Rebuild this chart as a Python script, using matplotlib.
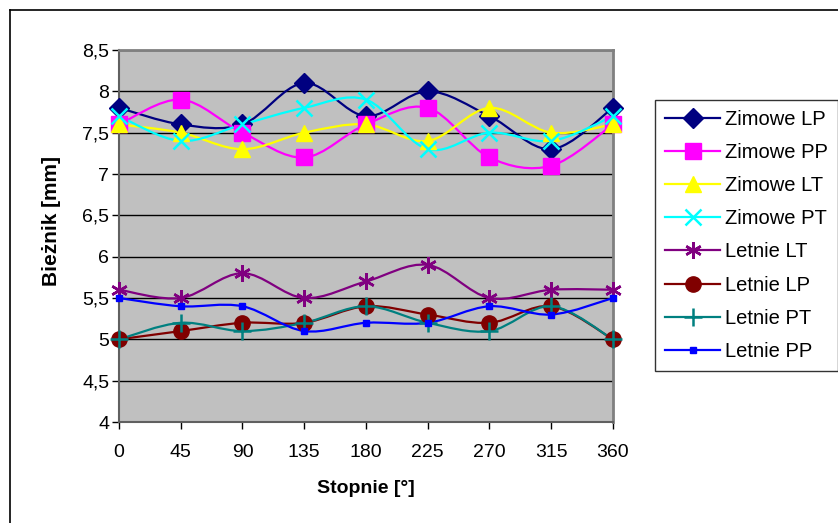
import numpy as np
import matplotlib
matplotlib.use('Agg')
from matplotlib import pyplot as plt
from matplotlib.path import Path
from matplotlib.patches import PathPatch
from matplotlib.lines import Line2D

plt.rcParams['font.family'] = ['Liberation Sans', 'DejaVu Sans']

stopnie = [0, 45, 90, 135, 180, 225, 270, 315, 360]

zimowe_lp = [7.8, 7.6, 7.6, 8.1, 7.7, 8.0, 7.7, 7.3, 7.8]
zimowe_pp = [7.6, 7.9, 7.5, 7.2, 7.6, 7.8, 7.2, 7.1, 7.6]
zimowe_lt = [7.6, 7.5, 7.3, 7.5, 7.6, 7.4, 7.8, 7.5, 7.6]
zimowe_pt = [7.7, 7.4, 7.6, 7.8, 7.9, 7.3, 7.5, 7.4, 7.7]
letnie_lt = [5.6, 5.5, 5.8, 5.5, 5.7, 5.9, 5.5, 5.6, 5.6]
letnie_lp = [5.0, 5.1, 5.2, 5.2, 5.4, 5.3, 5.2, 5.4, 5.0]
letnie_pt = [5.0, 5.2, 5.1, 5.2, 5.4, 5.2, 5.1, 5.4, 5.0]
letnie_pp = [5.5, 5.4, 5.4, 5.1, 5.2, 5.2, 5.4, 5.3, 5.5]

series = [
    ('Zimowe LP', zimowe_lp, '#000080', 'D', 10),
    ('Zimowe PP', zimowe_pp, '#FF00FF', 's', 11),
    ('Zimowe LT', zimowe_lt, '#FFFF00', '^', 11),
    ('Zimowe PT', zimowe_pt, '#00FFFF', 'x', 11),
    ('Letnie LT', letnie_lt, '#800080', '*', 12),
    ('Letnie LP', letnie_lp, '#800000', 'o', 11),
    ('Letnie PT', letnie_pt, '#008080', '+', 13),
    ('Letnie PP', letnie_pp, '#0000FF', 's', 4.5),
]


def smooth_path(x, y):
    # Excel-like smoothed line: cubic Bezier with Catmull-Rom control points
    p = np.column_stack([x, y]).astype(float)
    ext = np.vstack([p[0], p, p[-1]])
    verts = [p[0]]
    codes = [Path.MOVETO]
    for i in range(len(p) - 1):
        p0, p1, p2, p3 = ext[i], ext[i + 1], ext[i + 2], ext[i + 3]
        verts += [p1 + (p2 - p0) / 6, p2 - (p3 - p1) / 6, p2]
        codes += [Path.CURVE4] * 3
    return Path(verts, codes)


fig = plt.figure(figsize=(8.38, 5.23), dpi=100)
ax = fig.add_axes([0.142, 0.1931, 0.5895, 0.7113])
ax.set_facecolor('#C0C0C0')

handles = []
for label, vals, color, marker, ms in series:
    ax.add_patch(PathPatch(smooth_path(stopnie, vals), fill=False,
                           edgecolor=color, lw=1.6, zorder=3, clip_on=False))
    if marker == '*':
        mk = (6, 2, 0)  # asterisk like Excel
    else:
        mk = marker
    if marker in ('x', '+', '*'):
        style = dict(marker=mk, ms=ms, mec=color, mew=1.8)
    else:
        style = dict(marker=mk, ms=ms, mfc=color, mec=color)
    ax.plot(stopnie, vals, ls='none', zorder=4, clip_on=False, **style)
    handles.append((Line2D([], [], color=color, lw=1.6, **style), label))

ax.set_xlim(0, 360)
ax.set_ylim(4, 8.5)
ax.set_xticks(stopnie)
yt = np.arange(4, 8.51, 0.5)
ax.set_yticks(yt)
ax.set_yticklabels([f'{v:g}'.replace('.', ',') for v in yt])
ax.yaxis.grid(True, color='black', lw=1)
ax.set_axisbelow(True)
ax.tick_params(axis='both', direction='out', length=5, width=1, color='black',
               labelsize=14)
ax.tick_params(axis='x', pad=11)
ax.tick_params(axis='y', pad=2)
for s in ['top', 'right']:
    ax.spines[s].set_color('#808080')
    ax.spines[s].set_linewidth(2)
for s in ['left', 'bottom']:
    ax.spines[s].set_color('#606060')
    ax.spines[s].set_linewidth(1.5)

ax.set_xlabel('Stopnie [°]', fontsize=14, fontweight='bold', va='top')
ax.set_ylabel('Bieżnik [mm]', fontsize=15, fontweight='bold')
ax.xaxis.set_label_coords(0.5, -0.155)
ax.yaxis.set_label_coords(-0.118, 0.54)

leg = fig.legend([h for h, _ in handles], [l for _, l in handles],
                 loc='upper left', bbox_to_anchor=(655 / 838, 1 - 100 / 523),
                 frameon=True, fancybox=False, edgecolor='black', fontsize=14.5,
                 handlelength=2.75, handletextpad=0.25, labelspacing=0.7,
                 borderpad=0.5, borderaxespad=0)
leg.get_frame().set_linewidth(1)

# outer chart border (left and top edges visible)
fig.add_artist(Line2D([10 / 838, 10 / 838], [0, 1 - 10 / 523], color='black', lw=1.2,
                      transform=fig.transFigure))
fig.add_artist(Line2D([10 / 838, 1], [1 - 10 / 523, 1 - 10 / 523], color='black', lw=1.2,
                      transform=fig.transFigure))

fig.savefig('out.png', dpi=100)
